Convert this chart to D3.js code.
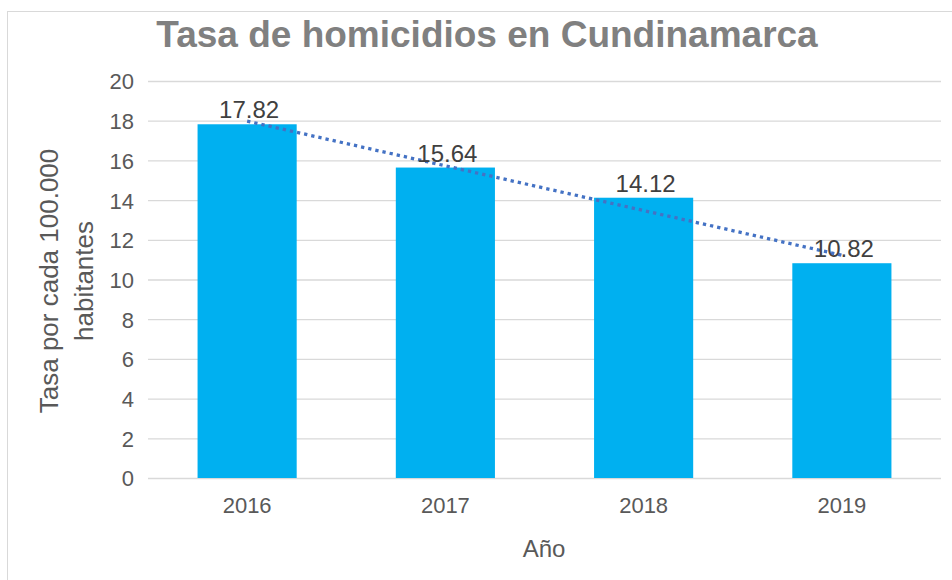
<!DOCTYPE html>
<html>
<head>
<meta charset="utf-8">
<script src="https://cdn.jsdelivr.net/npm/d3@7"></script>
<style>
  html, body { margin: 0; padding: 0; background: #fff; }
  svg { display: block; font-family: "Liberation Sans", Arial, sans-serif; }
</style>
</head>
<body>
<svg id="chart" width="952" height="580"></svg>
<script>
// Homicide rate per 100,000 inhabitants, Cundinamarca
const years = ["2016", "2017", "2018", "2019"];
const rates = [17.82, 15.64, 14.12, 10.82];
const yTicks = [0, 2, 4, 6, 8, 10, 12, 14, 16, 18, 20];

const titleText = "Tasa de homicidios en Cundinamarca";
const yTitleLines = ["Tasa por cada 100.000", "habitantes"];
const xTitleText = "Año";

const svg = d3.select("#chart");
const textColor = "#595959";
const gridColor = "#D9D9D9";
const barColor = "#00B0F0";
const trendColor = "#4472C4";

// chart area frame
svg.append("rect")
  .attr("x", 7.5).attr("y", 11.5)
  .attr("width", 1000).attr("height", 1000)
  .attr("fill", "none").attr("stroke", gridColor).attr("stroke-width", 1);

const plot = { left: 148, right: 941, top: 81, bottom: 478 };

const x = d3.scaleBand()
  .domain(years)
  .range([plot.left, plot.right])
  .paddingInner(0.5)
  .paddingOuter(0.25);

const y = d3.scaleLinear()
  .domain([0, 20])
  .range([plot.bottom, plot.top]);

// horizontal gridlines + y tick labels via axis
const yAxis = d3.axisLeft(y)
  .tickValues(yTicks)
  .tickSize(-(plot.right - plot.left))
  .tickPadding(14)
  .tickFormat(d3.format("d"));

const gy = svg.append("g")
  .attr("transform", `translate(${plot.left},0)`)
  .call(yAxis);
gy.select(".domain").remove();
gy.selectAll(".tick line").attr("stroke", gridColor).attr("stroke-width", 1.3);
gy.selectAll(".tick text")
  .attr("fill", textColor)
  .attr("font-size", 22)
  .attr("font-family", "'Liberation Sans', Arial, sans-serif")
  .attr("dy", "0.36em");

// bars
svg.append("g").selectAll("rect")
  .data(years.map((yr, i) => ({ yr, v: rates[i] })))
  .join("rect")
  .attr("x", d => x(d.yr))
  .attr("y", d => y(d.v))
  .attr("width", x.bandwidth())
  .attr("height", d => y(0) - y(d.v))
  .attr("fill", barColor);

// x axis labels
const xAxis = d3.axisBottom(x).tickSize(0).tickPadding(19);
const gx = svg.append("g")
  .attr("transform", `translate(0,${plot.bottom})`)
  .call(xAxis);
gx.select(".domain").remove();
gx.selectAll(".tick text")
  .attr("fill", textColor)
  .attr("font-size", 22)
  .attr("font-family", "'Liberation Sans', Arial, sans-serif");

// linear trendline (least squares over the year index)
const n = rates.length;
const xs = rates.map((_, i) => i + 1);
const mx = d3.mean(xs), my = d3.mean(rates);
const slope = d3.sum(xs.map((xi, i) => (xi - mx) * (rates[i] - my))) /
              d3.sum(xs.map(xi => (xi - mx) ** 2));
const icpt = my - slope * mx;
const trendPts = [
  [x(years[0]) + x.bandwidth() / 2, y(icpt + slope * 1)],
  [x(years[n - 1]) + x.bandwidth() / 2, y(icpt + slope * n)]
];
svg.append("path")
  .attr("d", d3.line()(trendPts))
  .attr("stroke", trendColor)
  .attr("stroke-width", 3.3)
  .attr("stroke-dasharray", "3.3 4")
  .attr("fill", "none");

// data labels
svg.append("g").selectAll("text")
  .data(years.map((yr, i) => ({ yr, v: rates[i] })))
  .join("text")
  .attr("x", d => x(d.yr) + x.bandwidth() / 2 + 2)
  .attr("y", d => y(d.v) - 6)
  .attr("text-anchor", "middle")
  .attr("fill", "#404040")
  .attr("font-size", 24)
  .text(d => d3.format(".2f")(d.v));

// chart title
svg.append("text")
  .attr("x", 487).attr("y", 47)
  .attr("text-anchor", "middle")
  .attr("fill", "#808080")
  .attr("font-size", 37)
  .attr("font-weight", "bold")
  .text(titleText);

// y axis title (two lines, rotated)
const yTitle = svg.append("text")
  .attr("transform", "translate(0,281) rotate(-90)")
  .attr("text-anchor", "middle")
  .attr("fill", textColor)
  .attr("font-size", 26);
yTitle.append("tspan").attr("x", 0).attr("y", 58).text(yTitleLines[0]);
yTitle.append("tspan").attr("x", 0).attr("y", 93).text(yTitleLines[1]);

// x axis title
svg.append("text")
  .attr("x", 544).attr("y", 557)
  .attr("text-anchor", "middle")
  .attr("fill", textColor)
  .attr("font-size", 24)
  .text(xTitleText);
</script>
</body>
</html>
